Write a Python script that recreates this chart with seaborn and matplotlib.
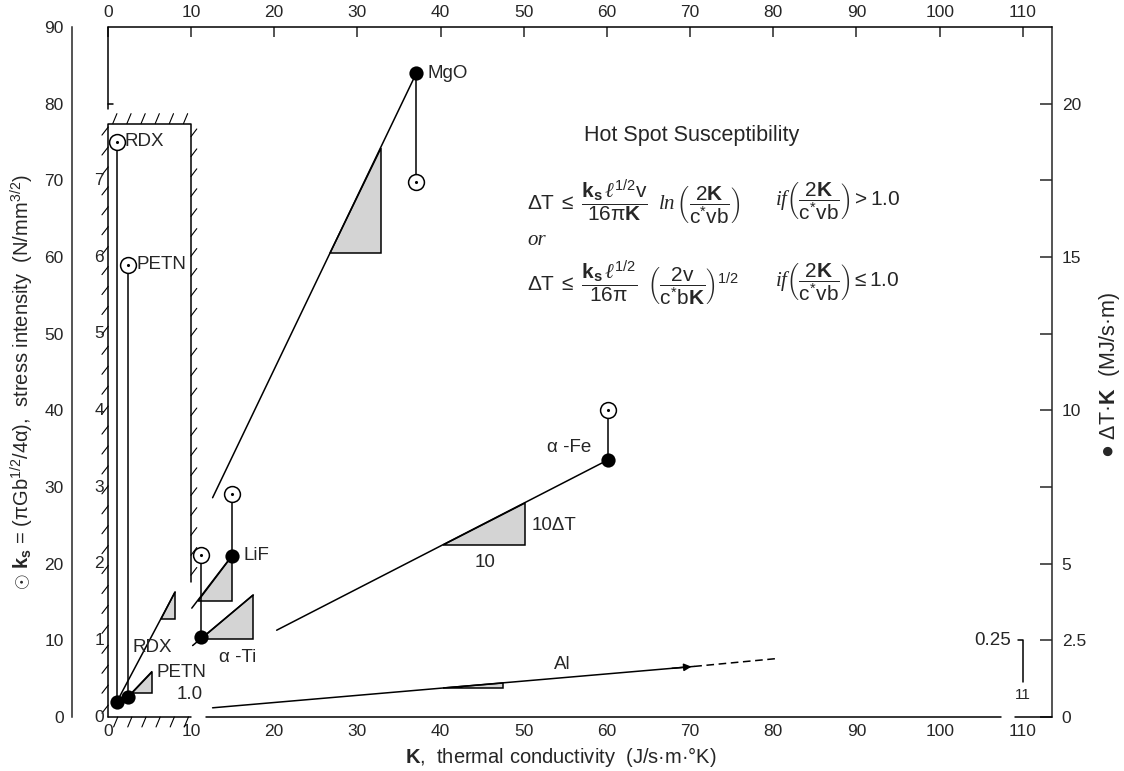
import numpy as np
import pandas as pd
import seaborn as sns
import matplotlib.pyplot as plt

# --- data ---
materials = ["RDX", "PETN", "α-Ti", "LiF", "MgO", "α-Fe"]
k_cond = [1.1, 2.4, 11.2, 14.9, 37.1, 60.1]        # K, thermal conductivity (J/s·m·°K)
ks_stress = [75.0, 59.0, 21.1, 29.1, 69.8, 40.0]   # open circles, k_s (N/mm^3/2)
dtk = [0.50, 0.65, 2.60, 5.25, 21.0, 8.38]         # filled dots, ΔT·K (MJ/s·m)

# hot spot lines: (K start, K end), (ΔT·K start, ΔT·K end)
line_k = {"RDX": (1.1, 8.1), "PETN": (2.4, 5.3), "α-Ti": (10.2, 17.5),
          "LiF": (10.1, 14.9), "MgO": (12.6, 37.1), "α-Fe": (20.3, 60.1),
          "Al": (12.6, 70.5)}
line_d = {"RDX": (0.50, 4.08), "PETN": (0.65, 1.48), "α-Ti": (2.33, 3.98),
          "LiF": (3.55, 5.25), "MgO": (7.15, 21.0), "α-Fe": (2.83, 8.38),
          "Al": (0.30, 1.65)}
al_dash_k = (70.5, 80.2)
al_dash_d = (1.65, 1.90)

# slope triangles (K range along each line)
tri_k = {"RDX": (6.4, 8.1), "PETN": (2.9, 5.3), "α-Ti": (11.2, 17.5),
         "LiF": (10.8, 14.9), "MgO": (26.7, 32.8), "α-Fe": (40.3, 50.1),
         "Al": (40.3, 47.5)}

left_ticks = list(range(0, 91, 10))
inner_ticks = list(range(0, 8))
right_ticks = [0, 2.5, 5, 7.5, 10, 12.5, 15, 17.5, 20]
right_labels = ["0", "2.5", "5", "", "10", "", "15", "", "20"]
x_ticks = list(range(0, 111, 10))

SCALE = 4.0  # left axis units per right axis unit

sns.set_style("white")
plt.rcParams['font.family'] = ['Liberation Sans', 'DejaVu Sans']
plt.rcParams['mathtext.fontset'] = 'custom'
plt.rcParams['mathtext.rm'] = 'Liberation Sans'
plt.rcParams['mathtext.it'] = 'Liberation Serif:italic'
plt.rcParams['mathtext.bf'] = 'Liberation Sans:bold'
plt.rcParams['mathtext.sf'] = 'Liberation Sans'

fig = plt.figure(figsize=(11.24, 7.71), dpi=100)
ax = fig.add_axes([72 / 1124, 1 - 717 / 771, 980 / 1124, 690 / 771])
ax.set_xlim(-4.3, 113.5)
ax.set_ylim(0, 90)

LW = 1.1
kw = dict(color="black", lw=LW, clip_on=False)

# frame pieces
for s in ["top", "bottom", "right"]:
    ax.spines[s].set_visible(False)
ax.spines["left"].set_linewidth(LW)
ax.plot([0, 113.5], [90, 90], **kw)
ax.plot([0, 0], [90, 79.3], **kw)
ax.plot([0, 0.6], [80, 80], **kw)
ax.plot([0, 10], [0, 0], **kw)
ax.plot([11.8, 107.4], [0, 0], **kw)
ax.plot([109.1, 113.5], [0, 0], **kw)

ax.set_xticks(x_ticks)
ax.set_yticks(left_ticks)
ax.tick_params(axis="x", direction="in", length=7, width=LW, top=True,
               labeltop=True, labelsize=12.5, pad=5)
ax.tick_params(axis="y", direction="in", length=9, width=LW, labelsize=12.5, pad=6)

sec = ax.secondary_yaxis("right", functions=(lambda y: y / SCALE, lambda y: y * SCALE))
sec.set_yticks(right_ticks)
sec.set_yticklabels(right_labels)
sec.tick_params(direction="in", length=9, width=LW, labelsize=12.5, pad=7)
sec.spines["right"].set_linewidth(LW)

# hatched box of the inner (explosives) scale
box_top = 77.4
ax.plot([0, 0, 10, 10], [0, box_top, box_top, 17.6], **kw)
for y in np.arange(1.5, box_top, 2.6):
    ax.plot([-0.7, 0.05], [y - 1.0, y + 0.05], color="black", lw=0.8, clip_on=False)
for y in np.arange(18.5, box_top, 2.6):
    ax.plot([10, 10.7], [y, y + 1.0], color="black", lw=0.8, clip_on=False)
for x in np.arange(0.6, 10, 1.7):
    ax.plot([x, x + 0.5], [box_top, box_top + 1.3], color="black", lw=0.8, clip_on=False)
for x in np.arange(1.2, 10, 1.7):
    ax.plot([x - 0.5, x], [-1.3, 0], color="black", lw=0.8, clip_on=False)
for t in inner_ticks:
    ax.text(-0.45, t * 10, str(t), ha="right", va="center", fontsize=12.5)

# slope triangles
for name, (k0, k1) in tri_k.items():
    lk, ld = line_k[name], line_d[name]
    d0 = np.interp(k0, lk, ld) * SCALE
    d1 = np.interp(k1, lk, ld) * SCALE
    ax.fill([k0, k1, k1], [d0, d0, d1], facecolor="#d4d4d4", edgecolor="black",
            lw=LW, clip_on=False, zorder=2)

# hot spot lines
for name in line_k:
    ax.plot(line_k[name], np.array(line_d[name]) * SCALE, zorder=3, **kw)
ax.plot(al_dash_k, np.array(al_dash_d) * SCALE, ls=(0, (5, 3)), zorder=3, **kw)
ax.annotate("", xy=(line_k["Al"][1], line_d["Al"][1] * SCALE),
            xytext=(line_k["Al"][1] - 3, (line_d["Al"][1] - 0.07) * SCALE),
            arrowprops=dict(arrowstyle="-|>", color="black", lw=LW, mutation_scale=11))

# connectors between ks circle and ΔT·K dot
for k, ks, d in zip(k_cond, ks_stress, dtk):
    ax.plot([k, k], [ks, d * SCALE], zorder=3, **kw)

df = pd.DataFrame({"material": materials, "K": k_cond, "ks": ks_stress,
                   "dtk": np.array(dtk) * SCALE})
sns.scatterplot(data=df, x="K", y="ks", marker="o", s=130, facecolor="white",
                edgecolor="black", linewidth=1.1, ax=ax, zorder=5, clip_on=False)
sns.scatterplot(data=df, x="K", y="ks", marker="o", s=5, color="black",
                linewidth=0, ax=ax, zorder=6, clip_on=False)
sns.scatterplot(data=df, x="K", y="dtk", marker="o", s=105, color="black",
                linewidth=0, ax=ax, zorder=5, clip_on=False)
ax.set_xlabel("")
ax.set_ylabel("")

# labels on the plot
fs = 13.5
ax.text(2.0, 75, "RDX", ha="left", va="center", fontsize=fs)
ax.text(3.5, 59, "PETN", ha="left", va="center", fontsize=fs)
ax.text(38.4, 84, "MgO", ha="left", va="center", fontsize=fs)
ax.text(16.3, 21, "LiF", ha="left", va="center", fontsize=fs)
ax.text(15.6, 7.8, "α -Ti", ha="center", va="center", fontsize=fs)
ax.text(55.5, 35.1, "α -Fe", ha="center", va="center", fontsize=fs)
ax.text(3.0, 9.1, "RDX", ha="left", va="center", fontsize=fs)
ax.text(5.8, 5.8, "PETN", ha="left", va="center", fontsize=fs)
ax.text(9.8, 2.9, "1.0", ha="center", va="center", fontsize=fs)
ax.text(51.0, 25.0, "10ΔT", ha="left", va="center", fontsize=fs)
ax.text(45.3, 20.2, "10", ha="center", va="center", fontsize=fs)
ax.text(54.6, 6.9, "Al", ha="center", va="center", fontsize=fs)
ax.text(108.6, 10.0, "0.25", ha="right", va="center", fontsize=fs)
ax.plot([109.4, 110.0, 110.0], [10.0, 10.0, 4.6], **kw)
ax.text(110.0, 2.9, "11", ha="center", va="center", fontsize=11)

ax.text(57.3, 75.9, "Hot Spot Susceptibility", ha="left", va="center", fontsize=15.5)
cvb = r"\mathrm{c}^{*}\mathrm{vb}"
eq1 = (r"$\mathrm{ΔT}\ \leq\ \dfrac{\mathbf{k}_{\mathbf{s}}\,\ell^{1/2}\mathrm{v}}"
       r"{\mathrm{16π}\mathbf{K}}\ \ \mathit{ln}\,\left(\dfrac{\mathrm{2}\mathbf{K}}{" + cvb + r"}\right)$")
eq2 = (r"$\mathrm{ΔT}\ \leq\ \dfrac{\mathbf{k}_{\mathbf{s}}\,\ell^{1/2}}{\mathrm{16π}}\ \ "
       r"\left(\dfrac{\mathrm{2v}}{\mathrm{c}^{*}\mathrm{b}\mathbf{K}}\right)^{1/2}$")
cond1 = r"$\mathit{if}\left(\dfrac{\mathrm{2}\mathbf{K}}{" + cvb + r"}\right) > \mathrm{1.0}$"
cond2 = r"$\mathit{if}\left(\dfrac{\mathrm{2}\mathbf{K}}{" + cvb + r"}\right) \leq \mathrm{1.0}$"
efs = 15
ax.text(50.4, 67.2, eq1, ha="left", va="center", fontsize=efs)
ax.text(80.2, 67.2, cond1, ha="left", va="center", fontsize=efs)
ax.text(50.4, 62.2, "or", ha="left", va="center", fontsize=efs,
        family="Liberation Serif", style="italic")
ax.text(50.4, 56.7, eq2, ha="left", va="center", fontsize=efs)
ax.text(80.2, 56.7, cond2, ha="left", va="center", fontsize=efs)

# axis titles
fig.text(561 / 1124, 1 - 757 / 771,
         r"$\mathbf{K}$,  thermal conductivity  (J/s·m·°K)",
         ha="center", va="center", fontsize=14.5)
fig.text(22 / 1124, 1 - 382 / 771,
         r"$\odot$ " + r"$\mathbf{k}_{\mathbf{s}}$" + " = (πGb" + r"$^{1/2}$"
         + "/4α),  stress intensity  (N/mm" + r"$^{3/2}$" + ")",
         rotation=90, ha="center", va="center", fontsize=14.5)
fig.text(1110 / 1124, 1 - 375 / 771, "● ΔT·" + r"$\mathbf{K}$" + "  (MJ/s·m)",
         rotation=90, ha="center", va="center", fontsize=15.5)

fig.savefig("out.png", dpi=100)
